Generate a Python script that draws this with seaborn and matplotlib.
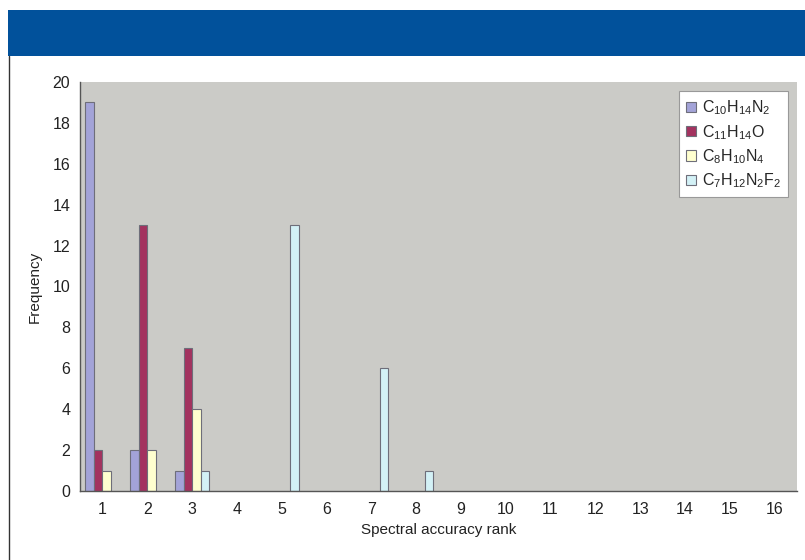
import numpy as np
import pandas as pd
import matplotlib
matplotlib.use("Agg")
import matplotlib.pyplot as plt
import seaborn as sns
from matplotlib.patches import Rectangle
from matplotlib.ticker import FixedLocator

# ------------------------------------------------------------------
# Data
# ------------------------------------------------------------------
ranks = [str(i) for i in range(1, 17)]
series_names = [
    r"C$_{10}$H$_{14}$N$_2$",
    r"C$_{11}$H$_{14}$O",
    r"C$_8$H$_{10}$N$_4$",
    r"C$_7$H$_{12}$N$_2$F$_2$",
]
c10h14n2 = [19, 2, 1, 0, 0, 0, 0, 0, 0, 0, 0, 0, 0, 0, 0, 0]
c11h14o = [2, 13, 7, 0, 0, 0, 0, 0, 0, 0, 0, 0, 0, 0, 0, 0]
c8h10n4 = [1, 2, 4, 0, 0, 0, 0, 0, 0, 0, 0, 0, 0, 0, 0, 0]
c7h12n2f2 = [0, 0, 1, 0, 13, 0, 6, 1, 0, 0, 0, 0, 0, 0, 0, 0]
colors = ["#a3a3d8", "#a3325f", "#ffffcf", "#d3f1f6"]

sns.set_theme(style="white")
plt.rcParams["font.family"] = ["Liberation Sans Narrow", "Liberation Sans", "DejaVu Sans"]
plt.rcParams["mathtext.default"] = "regular"

rows = []
for name, vals in zip(series_names, [c10h14n2, c11h14o, c8h10n4, c7h12n2f2]):
    for r, v in zip(ranks, vals):
        if v > 0:  # zero-height bars are not drawn in the original
            rows.append({"rank": r, "series": name, "freq": v})
df = pd.DataFrame(rows)

fig = plt.figure(figsize=(8.05, 5.6), dpi=100)
fig.patch.set_facecolor("white")

# blue header band and left frame line
fig.add_artist(Rectangle((8 / 805, 1 - 56 / 560), 797 / 805, 46 / 560,
                         transform=fig.transFigure, facecolor="#01519b",
                         edgecolor="none"))
fig.add_artist(plt.Line2D([8.5 / 805, 8.5 / 805], [0, 1 - 56 / 560],
                          transform=fig.transFigure, color="#333333", lw=1))

ax = fig.add_axes([80 / 805, 1 - 491 / 560, 717 / 805, 409 / 560])
ax.set_facecolor("#cbcbc7")

sns.barplot(data=df, x="rank", y="freq", hue="series", order=ranks,
            hue_order=series_names, palette=colors, width=0.76,
            edgecolor="#6e6e7a", linewidth=0.8, saturation=1, ax=ax)

ax.set_ylim(0, 20)
ax.set_xlim(-0.5, 15.5)
ax.set_yticks(range(0, 21, 2))
ax.xaxis.set_minor_locator(FixedLocator(np.arange(-0.5, 16, 1)))
ax.tick_params(axis="x", which="major", length=0, labelsize=11.5, pad=8, labelcolor="#222222")
ax.tick_params(axis="x", which="minor", length=4, color="#555555", direction="out")
ax.tick_params(axis="y", length=4, color="#555555", direction="out", labelsize=11.5, pad=3,
               labelcolor="#222222")
ax.set_xlabel("Spectral accuracy rank", fontsize=11, labelpad=4, color="#222222")
ax.set_ylabel("Frequency", fontsize=11, labelpad=8, color="#222222")

for side in ["top", "right"]:
    ax.spines[side].set_visible(False)
for side in ["left", "bottom"]:
    ax.spines[side].set_color("#555555")
    ax.spines[side].set_linewidth(1)

leg = ax.legend(loc="upper right", bbox_to_anchor=(0.992, 0.985), fontsize=11.5,
                frameon=True, fancybox=False, framealpha=1, facecolor="white",
                handlelength=0.6, handleheight=0.6,
                handletextpad=0.4, labelspacing=0.35, borderpad=0.45,
                borderaxespad=0.2, title=None)
leg.get_frame().set_edgecolor("#999999")
leg.get_frame().set_linewidth(0.8)

fig.savefig("out.png", dpi=100)
